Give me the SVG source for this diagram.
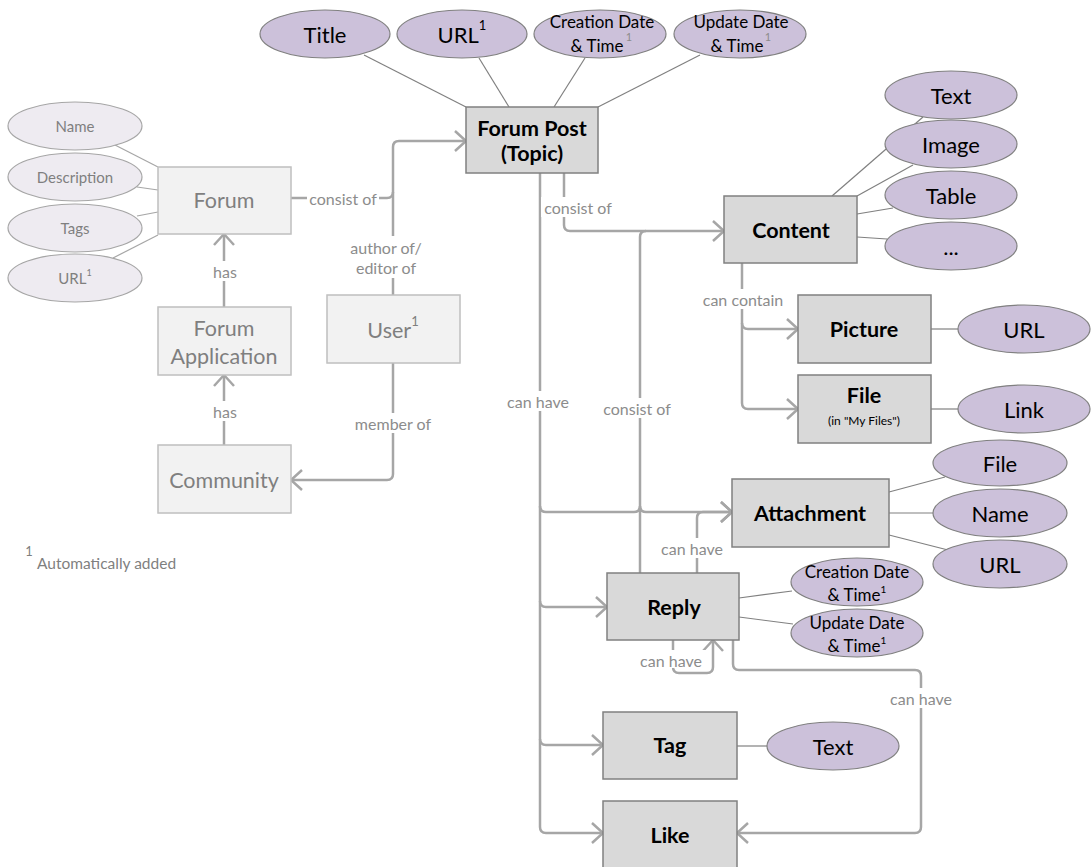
<svg xmlns="http://www.w3.org/2000/svg" width="1092" height="867" viewBox="0 0 1092 867">
  <defs>
    <style>
      text { font-family: Lato, "Liberation Sans", sans-serif; text-anchor: middle; dominant-baseline: central; }
      .box { fill: #d9d9d9; stroke: #808080; stroke-width: 1.5; }
      .lbox { fill: #f2f2f2; stroke: #bfbfbf; stroke-width: 1.5; }
      .att { fill: #ccc1da; stroke: #808080; stroke-width: 1.2; }
      .latt { fill: #eeebf1; stroke: #a6a6a6; stroke-width: 1.2; }
      .aline { stroke: #808080; stroke-width: 1.2; fill: none; }
      .lline { stroke: #a6a6a6; stroke-width: 1.2; fill: none; }
      .conn { stroke: #a6a6a6; stroke-width: 2.5; fill: none; }
      .arr { marker-end: url(#chev); }
      .bt { font-size: 21.5px; font-weight: bold; fill: #000; }
      .small { font-size: 12px; fill: #000; }
      .lt { font-size: 21.5px; fill: #7f7f7f; }
      .at { font-size: 22px; fill: #000; }
      .at2 { font-size: 17px; fill: #000; }
      .al { font-size: 15px; fill: #7f7f7f; }
      .cl { font-size: 16px; fill: #8c8c8c; }
      .sup { font-size: 12px; }
      .bg { fill: #ffffff; }
    </style>
    <marker id="chev" markerUnits="userSpaceOnUse" markerWidth="16" markerHeight="24" viewBox="0 0 16 24" refX="13" refY="12" orient="auto">
      <path d="M2,2 L13,12 L2,22" fill="none" stroke="#a6a6a6" stroke-width="2.5"/>
    </marker>
  </defs>

  <!-- attribute lines (drawn under the shapes) -->
  <g id="attribute-lines">
    <line class="aline" x1="364" y1="55" x2="466" y2="107"/>
    <line class="aline" x1="479" y1="58" x2="509" y2="107"/>
    <line class="aline" x1="585" y1="58" x2="554" y2="107"/>
    <line class="aline" x1="700" y1="55" x2="598" y2="107"/>

    <line class="lline" x1="115" y1="145" x2="158" y2="167"/>
    <line class="lline" x1="137" y1="187" x2="158" y2="190"/>
    <line class="lline" x1="137" y1="216" x2="158" y2="212"/>
    <line class="lline" x1="113" y1="258" x2="158" y2="235"/>

    <line class="aline" x1="832" y1="196" x2="923" y2="117"/>
    <line class="aline" x1="857" y1="196" x2="913" y2="165"/>
    <line class="aline" x1="857" y1="214" x2="893" y2="208"/>
    <line class="aline" x1="857" y1="237" x2="887" y2="239"/>

    <line class="aline" x1="931" y1="329" x2="959" y2="329"/>
    <line class="aline" x1="931" y1="409" x2="959" y2="409"/>

    <line class="aline" x1="889" y1="492" x2="945" y2="477"/>
    <line class="aline" x1="889" y1="513" x2="933" y2="513"/>
    <line class="aline" x1="889" y1="535" x2="948" y2="550"/>

    <line class="aline" x1="739" y1="598" x2="792" y2="591"/>
    <line class="aline" x1="739" y1="617" x2="793" y2="624"/>

    <line class="aline" x1="737" y1="746" x2="767" y2="746"/>
  </g>

  <!-- relationship connectors -->
  <g id="connectors">
    <path class="conn" d="M291,198 H387 Q393,198 393,192"/>
    <path class="conn arr" d="M393,295 V147 Q393,141 399,141 H466"/>
    <path class="conn arr" d="M224,307 V234"/>
    <path class="conn arr" d="M224,445 V375"/>
    <path class="conn arr" d="M393,363 V474 Q393,480 387,480 H291"/>

    <path class="conn arr" d="M564,173 V225 Q564,231 570,231 H724"/>
    <path class="conn" d="M640,573 V237 Q640,231 646,231"/>

    <path class="conn arr" d="M540,173 V827 Q540,833 546,833 H603"/>
    <path class="conn arr" d="M540,506 Q540,512 546,512 H634 Q640,512 640,506 Q640,512 646,512 H732"/>
    <path class="conn arr" d="M540,601 Q540,607 546,607 H607"/>
    <path class="conn arr" d="M540,739 Q540,745 546,745 H603"/>

    <path class="conn arr" d="M697,573 V518 Q697,512 703,512 H732"/>
    <path class="conn arr" d="M673,640 V667 Q673,673 679,673 H707 Q713,673 713,667 V640"/>
    <path class="conn arr" d="M733,640 V664 Q733,670 739,670 H915 Q921,670 921,676 V827 Q921,833 915,833 H737"/>

    <path class="conn arr" d="M742,263 V403 Q742,409 748,409 H798"/>
    <path class="conn arr" d="M742,323 Q742,329 748,329 H798"/>

    <!-- label backgrounds and labels -->
    <rect class="bg" x="307" y="189" width="72" height="18"/>
    <text class="cl" x="343" y="198">consist of</text>
    <rect class="bg" x="348" y="236" width="76" height="42"/>
    <text class="cl" x="386" y="247">author of/</text>
    <text class="cl" x="386" y="267">editor of</text>
    <rect class="bg" x="209" y="261" width="32" height="20"/>
    <text class="cl" x="225" y="271">has</text>
    <rect class="bg" x="209" y="401" width="32" height="20"/>
    <text class="cl" x="225" y="411">has</text>
    <rect class="bg" x="354" y="413" width="78" height="20"/>
    <text class="cl" x="393" y="423">member of</text>

    <rect class="bg" x="541" y="197" width="74" height="20"/>
    <text class="cl" x="578" y="207">consist of</text>
    <rect class="bg" x="503" y="391" width="70" height="20"/>
    <text class="cl" x="538" y="401">can have</text>
    <rect class="bg" x="600" y="398" width="74" height="20"/>
    <text class="cl" x="637" y="408">consist of</text>
    <rect class="bg" x="698" y="289" width="90" height="20"/>
    <text class="cl" x="743" y="299">can contain</text>
    <rect class="bg" x="657" y="538" width="70" height="20"/>
    <text class="cl" x="692" y="548">can have</text>
    <rect class="bg" x="636" y="650" width="70" height="18"/>
    <text class="cl" x="671" y="660">can have</text>
    <rect class="bg" x="886" y="688" width="70" height="20"/>
    <text class="cl" x="921" y="698">can have</text>
  </g>

  <!-- Forum Post and its attributes -->
  <g id="node-forum-post">
    <rect class="box" x="466" y="107" width="132" height="66"/>
    <text class="bt" x="532" y="128">Forum Post</text>
    <text class="bt" x="532" y="153">(Topic)</text>
  </g>
  <g id="attr-title">
    <ellipse class="att" cx="325" cy="34" rx="65" ry="24"/>
    <text class="at" x="325" y="34">Title</text>
  </g>
  <g id="attr-url">
    <ellipse class="att" cx="462" cy="34" rx="65" ry="24"/>
    <text class="at" x="462" y="34">URL<tspan class="sup" style="font-size:13px" dy="-9">1</tspan></text>
  </g>
  <g id="attr-creation">
    <ellipse class="att" cx="600" cy="34" rx="66" ry="24"/>
    <text class="at2" x="602" y="21">Creation Date</text>
    <text class="at2" x="597" y="45">&amp; Time</text>
    <text class="sup" x="629" y="36" style="fill:#8c8c8c;font-size:11px">1</text>
  </g>
  <g id="attr-update">
    <ellipse class="att" cx="740" cy="34" rx="66" ry="24"/>
    <text class="at2" x="741" y="21">Update Date</text>
    <text class="at2" x="737" y="45">&amp; Time</text>
    <text class="sup" x="768" y="36" style="fill:#8c8c8c;font-size:11px">1</text>
  </g>

  <!-- Forum side (light) -->
  <g id="node-forum">
    <rect class="lbox" x="158" y="167" width="133" height="67"/>
    <text class="lt" x="224" y="200">Forum</text>
  </g>
  <g id="attr-name">
    <ellipse class="latt" cx="75" cy="126" rx="67" ry="24"/>
    <text class="al" x="75" y="126">Name</text>
  </g>
  <g id="attr-description">
    <ellipse class="latt" cx="75" cy="177" rx="67" ry="24"/>
    <text class="al" x="75" y="177">Description</text>
  </g>
  <g id="attr-tags">
    <ellipse class="latt" cx="75" cy="228" rx="67" ry="24"/>
    <text class="al" x="75" y="228">Tags</text>
  </g>
  <g id="attr-forum-url">
    <ellipse class="latt" cx="75" cy="278" rx="67" ry="24"/>
    <text class="al" x="75" y="278">URL<tspan class="sup" style="font-size:9px" dy="-6">1</tspan></text>
  </g>
  <g id="node-forum-application">
    <rect class="lbox" x="158" y="307" width="133" height="68"/>
    <text class="lt" x="224" y="328">Forum</text>
    <text class="lt" x="224" y="356">Application</text>
  </g>
  <g id="node-community">
    <rect class="lbox" x="158" y="445" width="133" height="68"/>
    <text class="lt" x="224" y="480">Community</text>
  </g>
  <g id="node-user">
    <rect class="lbox" x="327" y="295" width="133" height="68"/>
    <text class="lt" x="393" y="330">User<tspan class="sup" style="font-size:13px" dy="-9">1</tspan></text>
  </g>

  <!-- Content and its parts -->
  <g id="attr-text">
    <ellipse class="att" cx="951" cy="95" rx="66" ry="24"/>
    <text class="at" x="951" y="95">Text</text>
  </g>
  <g id="attr-image">
    <ellipse class="att" cx="951" cy="144" rx="66" ry="24"/>
    <text class="at" x="951" y="144">Image</text>
  </g>
  <g id="attr-table">
    <ellipse class="att" cx="951" cy="195" rx="66" ry="24"/>
    <text class="at" x="951" y="195">Table</text>
  </g>
  <g id="attr-more">
    <ellipse class="att" cx="951" cy="246" rx="66" ry="24"/>
    <text class="at" x="951" y="246">...</text>
  </g>
  <g id="node-content">
    <rect class="box" x="724" y="196" width="133" height="67"/>
    <text class="bt" x="791" y="230">Content</text>
  </g>
  <g id="node-picture">
    <rect class="box" x="798" y="295" width="133" height="68"/>
    <text class="bt" x="864" y="329">Picture</text>
  </g>
  <g id="attr-picture-url">
    <ellipse class="att" cx="1024" cy="329" rx="66" ry="24"/>
    <text class="at" x="1024" y="329">URL</text>
  </g>
  <g id="node-file">
    <rect class="box" x="798" y="375" width="133" height="68"/>
    <text class="bt" x="864" y="395">File</text>
    <text class="small" x="864" y="420">(in "My Files")</text>
  </g>
  <g id="attr-link">
    <ellipse class="att" cx="1024" cy="409" rx="66" ry="24"/>
    <text class="at" x="1024" y="409">Link</text>
  </g>

  <!-- Attachment -->
  <g id="node-attachment">
    <rect class="box" x="732" y="479" width="157" height="68"/>
    <text class="bt" x="810" y="513">Attachment</text>
  </g>
  <g id="attr-att-file">
    <ellipse class="att" cx="1000" cy="463" rx="67" ry="23"/>
    <text class="at" x="1000" y="463">File</text>
  </g>
  <g id="attr-att-name">
    <ellipse class="att" cx="1000" cy="513" rx="67" ry="24"/>
    <text class="at" x="1000" y="513">Name</text>
  </g>
  <g id="attr-att-url">
    <ellipse class="att" cx="1000" cy="564" rx="67" ry="24"/>
    <text class="at" x="1000" y="564">URL</text>
  </g>

  <!-- Reply -->
  <g id="node-reply">
    <rect class="box" x="607" y="573" width="132" height="67"/>
    <text class="bt" x="674" y="607">Reply</text>
  </g>
  <g id="attr-reply-creation">
    <ellipse class="att" cx="857" cy="582" rx="66" ry="24"/>
    <text class="at2" x="857" y="571">Creation Date</text>
    <text class="at2" x="857" y="594">&amp; Time<tspan class="sup" style="font-size:10px" dy="-5">1</tspan></text>
  </g>
  <g id="attr-reply-update">
    <ellipse class="att" cx="857" cy="633" rx="66" ry="24"/>
    <text class="at2" x="857" y="622">Update Date</text>
    <text class="at2" x="857" y="645">&amp; Time<tspan class="sup" style="font-size:10px" dy="-5">1</tspan></text>
  </g>

  <!-- Tag and Like -->
  <g id="node-tag">
    <rect class="box" x="603" y="712" width="134" height="67"/>
    <text class="bt" x="670" y="745">Tag</text>
  </g>
  <g id="attr-tag-text">
    <ellipse class="att" cx="833" cy="746" rx="66" ry="24"/>
    <text class="at" x="833" y="746">Text</text>
  </g>
  <g id="node-like">
    <rect class="box" x="603" y="801" width="134" height="68"/>
    <text class="bt" x="670" y="835">Like</text>
  </g>

  <!-- footnote -->
  <g id="footnote">
    <text x="29" y="551" style="font-size:13px;fill:#7f7f7f">1</text>
    <text x="37" y="563" style="font-size:15.5px;fill:#7f7f7f;text-anchor:start">Automatically added</text>
  </g>
</svg>
